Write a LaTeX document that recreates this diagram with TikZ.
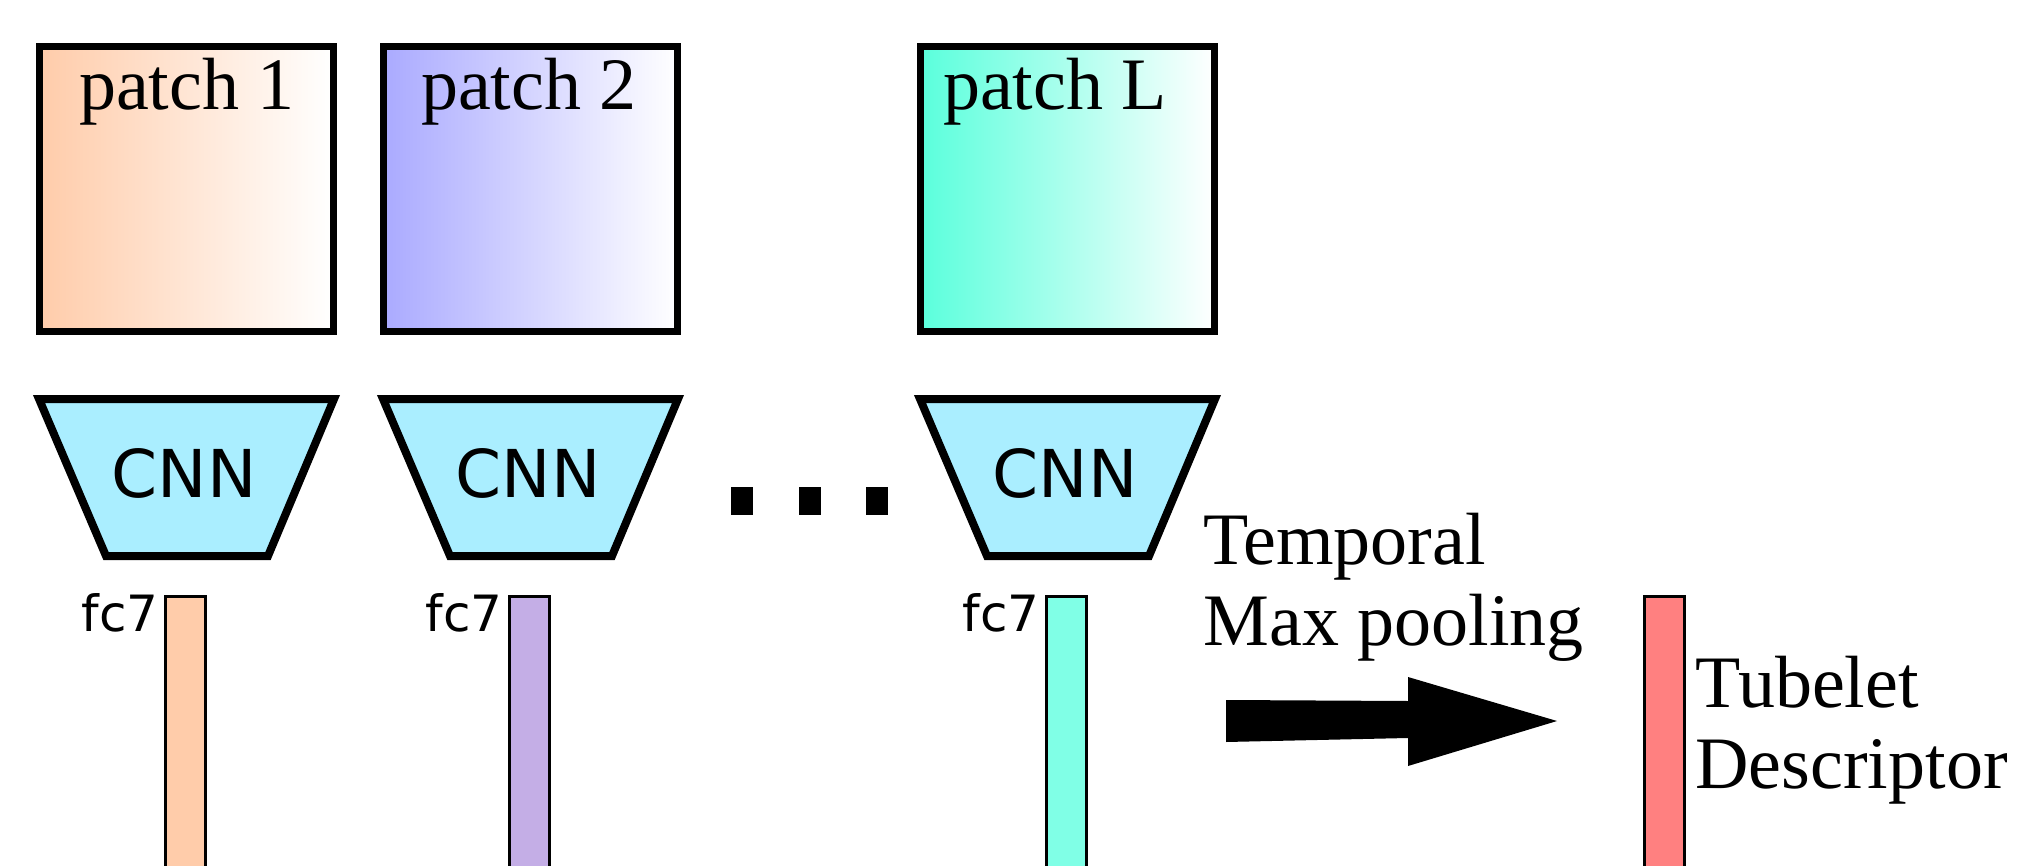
\documentclass[tikz,border=0pt]{standalone}
\usepackage{fontspec}
\setmainfont{Liberation Serif}
\newfontfamily\cnnfont{DejaVu Sans}
\definecolor{peach}{RGB}{255,204,170}
\definecolor{lavender}{RGB}{170,170,255}
\definecolor{aqua}{RGB}{90,255,220}
\definecolor{cnnblue}{RGB}{170,238,255}
\definecolor{barpeach}{RGB}{255,204,170}
\definecolor{barpurple}{RGB}{196,174,230}
\definecolor{baraqua}{RGB}{128,255,230}
\definecolor{barred}{RGB}{255,128,128}
\begin{document}
\begin{tikzpicture}[x=0.5pt,y=-0.5pt,
  patchbox/.style={draw=black, line width=3.5pt, minimum width=147pt,
    minimum height=142.5pt, inner sep=0pt, right color=white},
  serif/.style={font=\fontsize{37}{40.5}\selectfont, inner sep=0pt, align=left},
  cnnshape/.style={draw=black, fill=cnnblue, line width=4pt, line join=miter},
  cnntext/.style={font=\cnnfont\fontsize{33}{36}\selectfont, inner sep=0pt, anchor=base},
  fclabel/.style={font=\cnnfont\fontsize{25}{28}\selectfont, inner sep=0pt, anchor=base east},
  featbar/.style={draw=black, line width=1.35pt},
  dotsq/.style={fill=black, minimum width=11pt, minimum height=14pt, inner sep=0pt}]
\useasboundingbox (0,0) rectangle (2022,866);

% input patches
\node[patchbox, left color=peach]    (p1) at (186.5,189) {};
\node[patchbox, left color=lavender] (p2) at (530.5,189) {};
\node[patchbox, left color=aqua]     (pL) at (1067.5,189) {};
\node[serif, anchor=base] (t1) at (187,110) {patch 1};
\node[serif, anchor=base] (t2) at (529,110) {patch 2};
\node[serif, anchor=base] (tL) at (1055,110) {patch L};

% CNN trapezoids
\foreach \dx/\nm in {0/c1, 344/c2, 881/cL}{
  \begin{scope}[xshift=\dx*0.5pt]
    \draw[cnnshape] (39,399) -- (334,399) -- (268,556) -- (106,556) -- cycle;
    \node[cnntext] (\nm) at (184,497) {CNN};
  \end{scope}
}

% ellipsis between the second and the last branch
\node[dotsq] (d1) at (742,501) {};
\node[dotsq] (d2) at (810,501) {};
\node[dotsq] (d3) at (877,501) {};

% fc7 feature vectors
\draw[featbar, fill=barpeach]  (165.5,596.5) rectangle (205.5,900);
\draw[featbar, fill=barpurple] (509.5,596.5) rectangle (549.5,900);
\draw[featbar, fill=baraqua]   (1046.5,596.5) rectangle (1086.5,900);
\node[fclabel] (f1) at (159,631) {fc7};
\node[fclabel] (f2) at (503,631) {fc7};
\node[fclabel] (fL) at (1040,631) {fc7};

% pooling arrow
\coordinate (atail) at (1226,721);
\coordinate (atip)  at (1557,721);
\fill[black] (atail) ++(0,-21) -- (1408,701) -- (1408,677) -- (atip)
  -- (1408,766) -- (1408,738) -- (1226,742) -- cycle;
% the base anchor of a two-line node sits on its last line
\node[serif, anchor=base west] (pool) at (1203,645) {Temporal\\Max pooling};

% pooled descriptor
\draw[featbar, fill=barred] (1644.5,596.5) rectangle (1684.5,900);
\node[serif, anchor=base west] (desc) at (1695,788) {Tubelet\\Descriptor};
\end{tikzpicture}
\end{document}
